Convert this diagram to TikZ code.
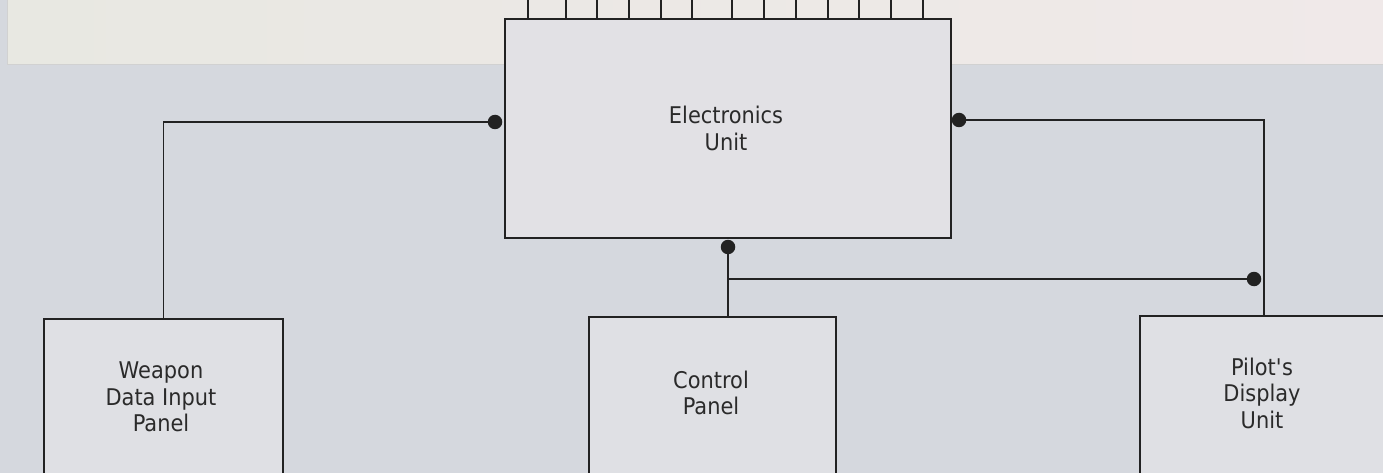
\documentclass[tikz,border=0pt]{standalone}
\usepackage{fontspec}
\setmainfont{DejaVu Sans}[FakeStretch=0.91]
\definecolor{bgc}{HTML}{D5D8DE}
\definecolor{panelL}{HTML}{E8E8E2}
\definecolor{panelR}{HTML}{F0E9E9}
\definecolor{boxc}{HTML}{E2E1E5}
\definecolor{lowbox}{HTML}{DFE0E4}
\definecolor{inkc}{HTML}{222222}
\definecolor{txtc}{HTML}{2A2A2A}
\tikzset{
  unitbox/.style={draw=inkc, line width=1.6pt, anchor=north west, inner sep=0pt},
  lbl/.style={text=txtc, align=center, font=\fontsize{23}{26.5}\selectfont},
  wire/.style={draw=inkc, line width=1.6pt},
  jdot/.style={circle, fill=inkc, draw=none, minimum width=14.5pt, minimum height=14.5pt, inner sep=0pt}
}
\begin{document}
\begin{tikzpicture}[x=1pt,y=-1pt]
\useasboundingbox (0,0) rectangle (1383,473);
\begin{scope}
\clip (0,0) rectangle (1383,473);
% background
\fill[bgc] (-5,-5) rectangle (1390,480);
\shade[left color=panelL, right color=panelR, draw=black!18, line width=0.8pt] (7,-5) rectangle (1392,64);
% boxes
\node[unitbox, fill=boxc, minimum width=446pt, minimum height=219pt] (eu) at (504,18) {};
\node[unitbox, fill=lowbox, minimum width=239pt, minimum height=170pt] (wdp) at (43,318) {};
\node[unitbox, fill=lowbox, minimum width=247pt, minimum height=170pt] (cp) at (588,316) {};
\node[unitbox, fill=lowbox, minimum width=248pt, minimum height=170pt] (pdu) at (1139,315) {};
% labels
\node[lbl] (eut) at (726,128.5) {Electronics\\Unit};
\node[lbl] (wdpt) at (161,397) {Weapon\\Data Input\\Panel};
\node[lbl] (cpt) at (711,393) {Control\\Panel};
\node[lbl] (pdut) at (1262,393) {Pilot\textquotesingle s\\Display\\Unit};
% ticks on top
\foreach \tx in {528,566,597,629,661,692,732,764,796,828,859,891,923}
  \draw[wire] (\tx,-3) -- (\tx,18);
% junction dots
\node[jdot] (dl) at (495,122) {};
\node[jdot] (dr) at (959,120) {};
\node[jdot] (db) at (728,247) {};
\node[jdot] (dp) at (1254,279) {};
\coordinate (jn) at (728,279);
% connectors
\draw[wire] (dl.center) -| (wdp);
\draw[wire] (dr.center) -| (pdu);
\draw[wire] (db.center) -- (db.center |- cp.north);
\draw[wire] (jn) -- (dp.center);
\end{scope}
\end{tikzpicture}
\end{document}
